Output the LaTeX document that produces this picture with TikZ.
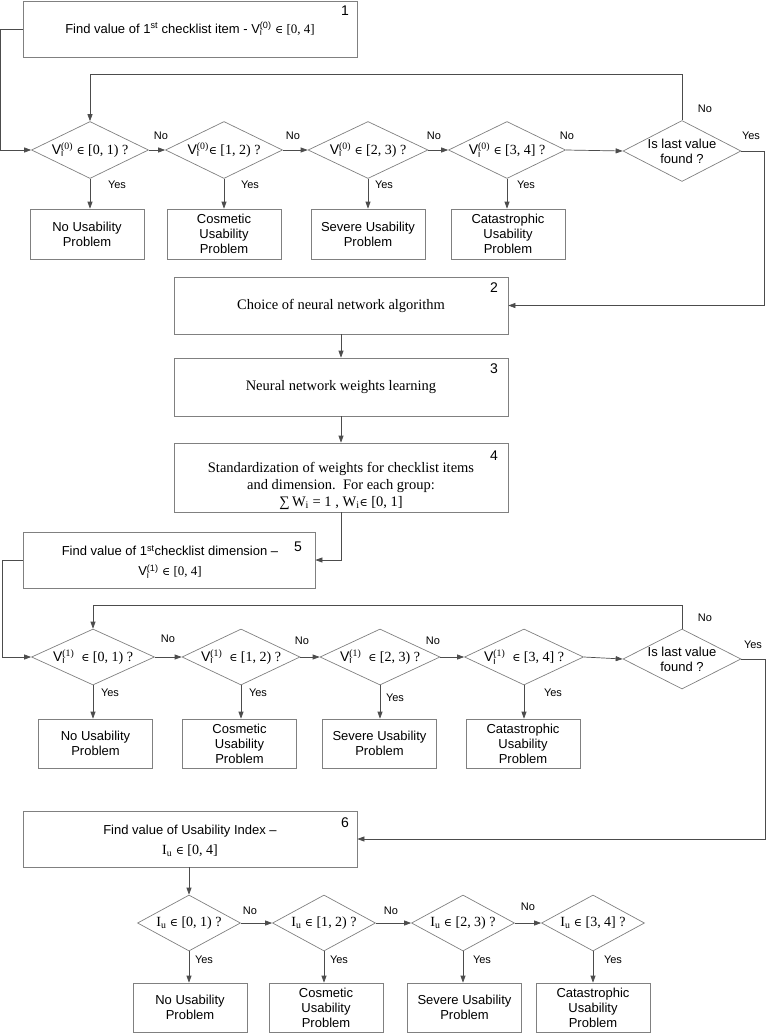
\documentclass[tikz,border=0pt]{standalone}
\usepackage{fontspec}
\setmainfont{Liberation Serif}
\setsansfont{Liberation Sans}
\newfontfamily\dvs{DejaVu Serif}
\usetikzlibrary{shapes.geometric,arrows.meta}
\newcommand{\isin}{{\dvs\fontsize{11}{13}\selectfont ∈}}
\newcommand{\Vv}[1]{\textsf{V}\rlap{\textsubscript{\textsf{i}}}\textsuperscript{(#1)}}
\newcommand{\Iu}{I\textsubscript{u}}
\newcommand{\Wi}{W\textsubscript{i}}
\begin{document}
\begin{tikzpicture}[x=1pt,y=-1pt,
  line/.style={draw=black!70, line width=0.7pt},
  arr/.style={line, -{Triangle[length=7pt,width=5pt]}},
  box/.style={draw=black!50, line width=0.7pt, rectangle, inner sep=0pt, align=center},
  res/.style={box, minimum width=114pt, minimum height=50pt, font=\fontsize{13}{15}\selectfont\sffamily},
  dia/.style={draw=black!50, line width=0.7pt, diamond, inner sep=0pt},
  dtxt/.style={inner sep=0pt, align=center, font=\fontsize{14}{16}\selectfont},
  dsf/.style={inner sep=0pt, align=center, font=\fontsize{13}{15}\selectfont\sffamily},
  lbl/.style={font=\fontsize{11}{13}\selectfont\sffamily, inner sep=0pt},
  num/.style={font=\fontsize{14}{16}\selectfont\sffamily, inner sep=0pt},
]
\useasboundingbox (0,0) rectangle (766,1033);

% ---------- Box 1 ----------
\node[box, minimum width=334pt, minimum height=56pt, font=\fontsize{13}{15}\selectfont\sffamily] (b1) at (190,29)
  {Find value of 1\textsuperscript{st} checklist item - \Vv{0} {\rmfamily\isin{} [0, 4]}};
\node[num] (n1) at (345,11) {1};

% ---------- Row 1 ----------
\node[dia, minimum width=117pt, minimum height=57pt] (d11) at (90,150) {};
\node[dia, minimum width=117pt, minimum height=57pt] (d12) at (224,150) {};
\node[dia, minimum width=120pt, minimum height=57pt] (d13) at (368,150) {};
\node[dia, minimum width=117pt, minimum height=57pt] (d14) at (507,150) {};
\node[dia, minimum width=118pt, minimum height=61pt] (d15) at (682,151) {};
\node[dtxt] (t11) at (90,150) {\Vv{0} \isin{} [0, 1) ?};
\node[dtxt] (t12) at (224,150) {\Vv{0}\isin{} [1, 2) ?};
\node[dtxt] (t13) at (368,150) {\Vv{0} \isin{} [2, 3) ?};
\node[dtxt] (t14) at (507,150) {\Vv{0} \isin{} [3, 4] ?};
\node[dsf] (t15) at (682,151) {Is last value\\found ?};

\node[res] (r11) at (87,234) {No Usability\\Problem};
\node[res] (r12) at (224,234) {Cosmetic\\Usability\\Problem};
\node[res] (r13) at (368,234) {Severe Usability\\Problem};
\node[res] (r14) at (508,234) {Catastrophic\\Usability\\Problem};

\draw[arr] (b1.west) -- ++(-22,0) |- (d11.west);
\draw[arr] (d11.east) -- (d12.west);
\draw[arr] (d12.east) -- (d13.west);
\draw[arr] (d13.east) -- (d14.west);
\draw[arr] (d14.east) -- (d15.west);
\draw[arr] (d15.north) -- ++(0,-46) -| (d11.north);
\foreach \i in {1,2,3,4} \draw[arr] (d1\i.south) -- (d1\i.south |- r1\i.north);

\node[lbl] (no11) at (161,136) {No};
\node[lbl] (no12) at (293,136) {No};
\node[lbl] (no13) at (434,136) {No};
\node[lbl] (no14) at (567,136) {No};
\node[lbl] (no15) at (705,109) {No};
\node[lbl] (ye15) at (751,136) {Yes};
\node[lbl] (ye11) at (117,185) {Yes};
\node[lbl] (ye12) at (250,185) {Yes};
\node[lbl] (ye13) at (384,185) {Yes};
\node[lbl] (ye14) at (526,185) {Yes};

% ---------- Boxes 2-4 ----------
\node[box, minimum width=334pt, minimum height=57pt, font=\fontsize{14.5}{17}\selectfont] (b2) at (341,305.5)
  {Choice of neural network algorithm};
\node[num] (n2) at (494,288) {2};
\node[box, minimum width=334pt, minimum height=58pt, font=\fontsize{14.5}{17}\selectfont] (b3) at (341,387)
  {Neural network weights learning};
\node[num] (n3) at (494,369) {3};
\node[box, minimum width=334pt, minimum height=69pt] (b4) at (341,477.5) {};
\node[dtxt, font=\fontsize{14.5}{17}\selectfont] (b4t) at (341,486)
  {Standardization of weights for checklist items\\and dimension.\ \ For each group:\\
   ∑\,W\textsubscript{i} = 1 , \Wi\isin{} [0, 1]};
\node[num] (n4) at (494,456) {4};

\draw[arr] (d15.east) -- ++(23,0) |- (b2.east);
\draw[arr] (b2.south) -- (b3.north);
\draw[arr] (b3.south) -- (b4.north);

% ---------- Box 5 ----------
\node[box, minimum width=292pt, minimum height=56pt] (b5) at (169,560) {};
\node[dsf, font=\fontsize{13}{20}\selectfont\sffamily] (b5t) at (170,562)
  {Find value of 1\textsuperscript{st}checklist dimension --\\ \Vv{1} {\rmfamily\isin{} [0, 4]}};
\node[num] (n5) at (298,547) {5};
\draw[arr] (b4.south) |- (b5.east);

% ---------- Row 2 ----------
\node[dia, minimum width=123pt, minimum height=56pt] (d21) at (93,657) {};
\node[dia, minimum width=118pt, minimum height=56pt] (d22) at (241,657) {};
\node[dia, minimum width=120pt, minimum height=56pt] (d23) at (380,657) {};
\node[dia, minimum width=119pt, minimum height=56pt] (d24) at (524,657) {};
\node[dia, minimum width=118pt, minimum height=60pt] (d25) at (682,659) {};
\node[dtxt] (t21) at (93,657) {\Vv{1} \ \isin{} [0, 1) ?};
\node[dtxt] (t22) at (241,657) {\Vv{1} \ \isin{} [1, 2) ?};
\node[dtxt] (t23) at (380,657) {\Vv{1} \ \isin{} [2, 3) ?};
\node[dtxt] (t24) at (524,657) {\Vv{1} \ \isin{} [3, 4] ?};
\node[dsf] (t25) at (682,659) {Is last value\\found ?};

\node[res, minimum height=49pt] (r21) at (95.5,743.5) {No Usability\\Problem};
\node[res, minimum height=49pt] (r22) at (239.5,743.5) {Cosmetic\\Usability\\Problem};
\node[res, minimum height=49pt] (r23) at (379.5,743.5) {Severe Usability\\Problem};
\node[res, minimum height=49pt] (r24) at (523,743.5) {Catastrophic\\Usability\\Problem};

\draw[arr] (b5.west) -- ++(-20,0) |- (d21.west);
\draw[arr] (d21.east) -- (d22.west);
\draw[arr] (d22.east) -- (d23.west);
\draw[arr] (d23.east) -- (d24.west);
\draw[arr] (d24.east) -- (d25.west);
\draw[arr] (d25.north) -- ++(0,-23) -| (d21.north);
\foreach \i in {1,2,3,4} \draw[arr] (d2\i.south) -- (d2\i.south |- r2\i.north);

\node[lbl] (no21) at (168,639) {No};
\node[lbl] (no22) at (302,641) {No};
\node[lbl] (no23) at (433,641) {No};
\node[lbl] (no25) at (705,618) {No};
\node[lbl] (ye25) at (753,645) {Yes};
\node[lbl] (ye21) at (110,693) {Yes};
\node[lbl] (ye22) at (258,693) {Yes};
\node[lbl] (ye23) at (395,698) {Yes};
\node[lbl] (ye24) at (553,693) {Yes};

% ---------- Box 6 ----------
\node[box, minimum width=334pt, minimum height=56pt] (b6) at (190,839) {};
\node[dsf, font=\fontsize{13}{20}\selectfont\sffamily] (b6t) at (190,841)
  {Find value of Usability Index --\\ {\rmfamily\fontsize{14}{16}\selectfont\Iu{} \isin{} [0, 4]}};
\node[num] (n6) at (345,823) {6};
\draw[arr] (d25.east) -- ++(24,0) |- (b6.east);

% ---------- Row 3 ----------
\node[dia, minimum width=103pt, minimum height=56pt] (d31) at (189,923) {};
\node[dia, minimum width=103pt, minimum height=56pt] (d32) at (324,923) {};
\node[dia, minimum width=103pt, minimum height=56pt] (d33) at (463,923) {};
\node[dia, minimum width=103pt, minimum height=56pt] (d34) at (593,923) {};
\node[dtxt] (t31) at (189,923) {\Iu{} \isin{} [0, 1) ?};
\node[dtxt] (t32) at (324,923) {\Iu{} \isin{} [1, 2) ?};
\node[dtxt] (t33) at (463,923) {\Iu{} \isin{} [2, 3) ?};
\node[dtxt] (t34) at (593,923) {\Iu{} \isin{} [3, 4] ?};

\node[res, minimum height=49pt] (r31) at (190,1007.5) {No Usability\\Problem};
\node[res, minimum height=49pt] (r32) at (326,1007.5) {Cosmetic\\Usability\\Problem};
\node[res, minimum height=49pt] (r33) at (464.5,1007.5) {Severe Usability\\Problem};
\node[res, minimum height=49pt] (r34) at (593,1007.5) {Catastrophic\\Usability\\Problem};

\draw[arr] (b6.south -| d31.north) -- (d31.north);
\draw[arr] (d31.east) -- (d32.west);
\draw[arr] (d32.east) -- (d33.west);
\draw[arr] (d33.east) -- (d34.west);
\foreach \i in {1,2,3,4} \draw[arr] (d3\i.south) -- (d3\i.south |- r3\i.north);

\node[lbl] (no31) at (250,911) {No};
\node[lbl] (no32) at (391,911) {No};
\node[lbl] (no33) at (528,907) {No};
\node[lbl] (ye31) at (204,960) {Yes};
\node[lbl] (ye32) at (339,960) {Yes};
\node[lbl] (ye33) at (482,960) {Yes};
\node[lbl] (ye34) at (613,960) {Yes};
\end{tikzpicture}
\end{document}
